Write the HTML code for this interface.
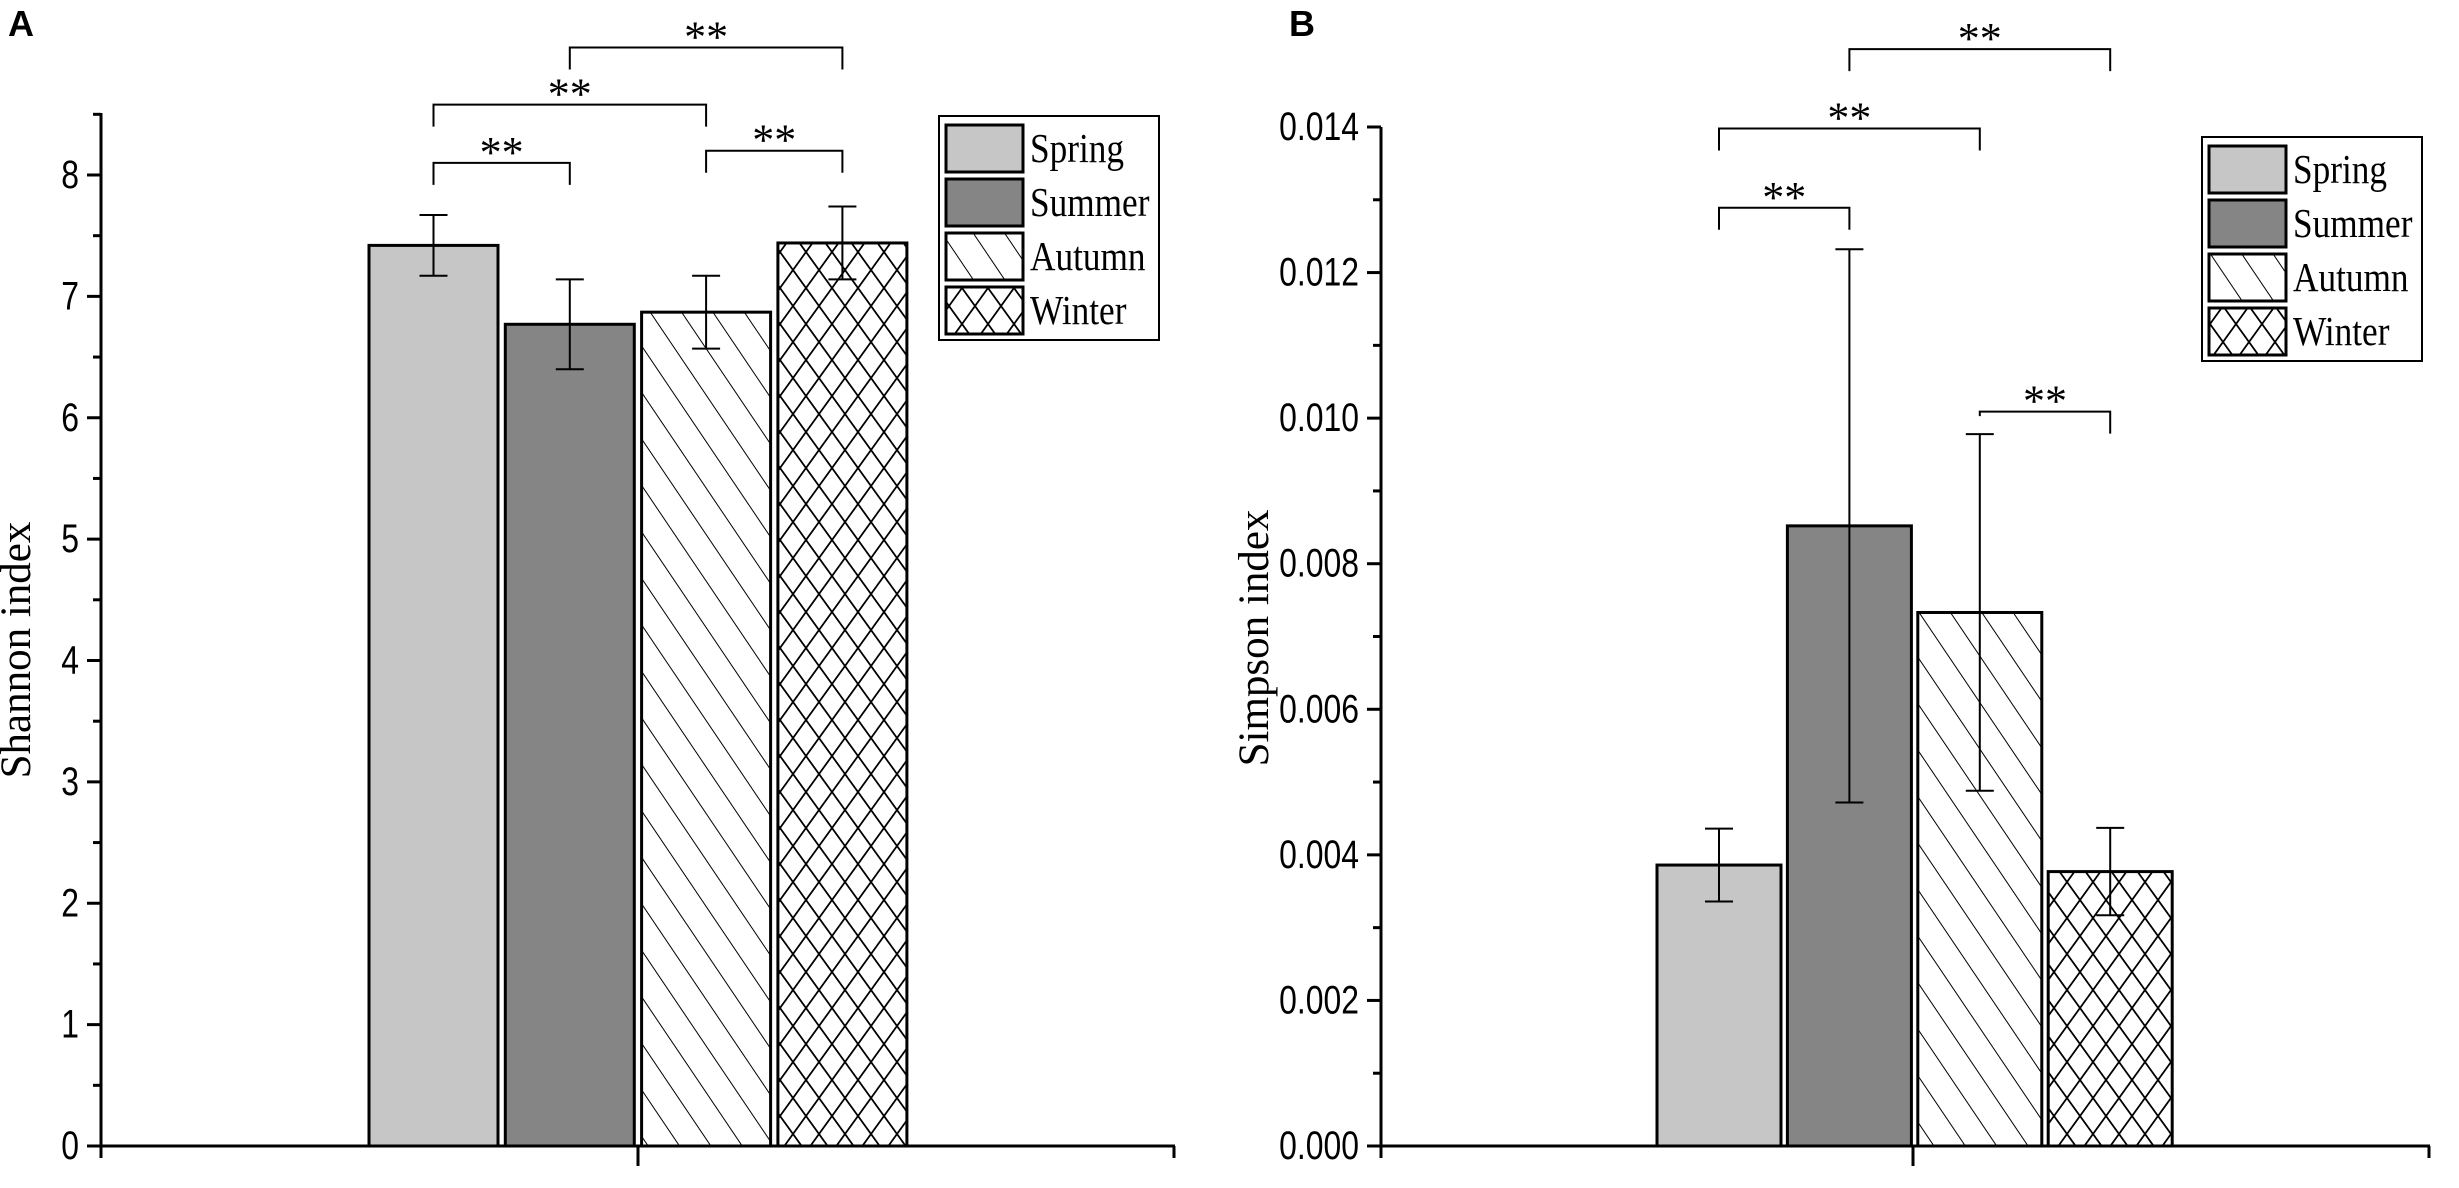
<!DOCTYPE html>
<html><head><meta charset="utf-8"><style>
html,body{margin:0;padding:0;background:#fff;}
svg{display:block;}
.tk{font-family:"Liberation Sans",Arial,sans-serif;font-size:38px;fill:#000;}
.tm{font-family:"Liberation Serif","Times New Roman",serif;fill:#000;}
</style></head><body>
<svg id="chart" width="2459" height="1188" viewBox="0 0 2459 1188" xmlns="http://www.w3.org/2000/svg">
<defs>
<pattern id="diag" patternUnits="userSpaceOnUse" width="26" height="26" patternTransform="rotate(-34)">
<rect width="26" height="26" fill="#fff"/><line x1="0" y1="0" x2="0" y2="26" stroke="#000" stroke-width="2"/>
</pattern>
<pattern id="cross" patternUnits="userSpaceOnUse" width="26" height="36">
<rect width="26" height="36" fill="#fff"/>
<path d="M0,0 L26,36 M26,0 L0,36" stroke="#000" stroke-width="1.8"/>
</pattern>
</defs>
<text x="8" y="36" font-family="Liberation Sans,Arial,sans-serif" font-weight="bold" font-size="36">A</text>
<text x="1289" y="36" font-family="Liberation Sans,Arial,sans-serif" font-weight="bold" font-size="36">B</text>
<g id="pa"></g>
<g id="pb"></g>
</svg>
<script>
const seasons = ["Spring","Summer","Autumn","Winter"];
const shannonValues = [7.42, 6.77, 6.87, 7.44];
const shannonErrors = [0.25, 0.37, 0.30, 0.30];
const shannonTicks = ["0","1","2","3","4","5","6","7","8"];
const simpsonValues = [0.00386, 0.00852, 0.00733, 0.00377];
const simpsonErrors = [0.0005, 0.0038, 0.00245, 0.0006];
const simpsonTicks = ["0.000","0.002","0.004","0.006","0.008","0.010","0.012","0.014"];
const shannonBrackets = [[0,1,8.1],[0,2,8.58],[2,3,8.2],[1,3,9.05]];
const simpsonBrackets = [[0,1,0.01289],[0,2,0.01398],[2,3,0.01009],[1,3,0.01507]];

const NS = "http://www.w3.org/2000/svg";
const fills = ["#c6c6c6","#858585","url(#diag)","url(#cross)"];
function mk(parent, tag, attrs, text){
  const e = document.createElementNS(NS, tag);
  for (const k in attrs) e.setAttribute(k, attrs[k]);
  if (text !== undefined) e.textContent = text;
  parent.appendChild(e);
  return e;
}
function panel(g, cfg){
  const y = v => cfg.y0 - (v - cfg.vmin) / (cfg.vmax - cfg.vmin) * (cfg.y0 - cfg.yTop);
  const bx = i => cfg.barX0 + i * cfg.barStep;
  const cx = i => bx(i) + cfg.barW / 2;
  cfg.values.forEach((v, i) => {
    const r = mk(g, "rect", {x: bx(i), y: y(v), width: cfg.barW, height: cfg.y0 - y(v), fill: fills[i], stroke: "#000", "stroke-width": 3});
    
    
  });
  cfg.values.forEach((v, i) => {
    const e = cfg.errors[i], c = cx(i);
    const eg = mk(g, "g", {stroke: "#000", "stroke-width": 2});
    
    
    mk(eg, "line", {x1: c, x2: c, y1: y(v + e), y2: y(v - e)});
    mk(eg, "line", {x1: c - 14, x2: c + 14, y1: y(v + e), y2: y(v + e)});
    mk(eg, "line", {x1: c - 14, x2: c + 14, y1: y(v - e), y2: y(v - e)});
  });
  const ax = mk(g, "g", {stroke: "#000", "stroke-width": 3});
  
  
  mk(ax, "line", {x1: cfg.xAxis, x2: cfg.xAxis, y1: cfg.axisTop, y2: cfg.y0 + 1.5});
  mk(ax, "line", {x1: cfg.xAxis - 12, x2: cfg.xEnd, y1: cfg.y0, y2: cfg.y0});
  mk(ax, "line", {x1: cfg.xAxis, x2: cfg.xAxis, y1: cfg.y0, y2: cfg.y0 + 12});
  mk(ax, "line", {x1: cfg.xMid, x2: cfg.xMid, y1: cfg.y0, y2: cfg.y0 + 20});
  mk(ax, "line", {x1: cfg.xEnd - 1, x2: cfg.xEnd - 1, y1: cfg.y0, y2: cfg.y0 + 12});
  cfg.ticks.forEach((t, i) => {
    const v = cfg.vmin + i * cfg.step, yy = y(v);
    mk(ax, "line", {x1: cfg.xAxis - 14, x2: cfg.xAxis, y1: yy, y2: yy});
    if (i < cfg.ticks.length - 1 || cfg.minorTop) {
      const ym = y(v + cfg.step / 2);
      if (ym >= cfg.axisTop) mk(ax, "line", {x1: cfg.xAxis - 8, x2: cfg.xAxis, y1: ym, y2: ym});
    }
    const tx = mk(g, "text", {x: 0, y: 0, "text-anchor": "end", class: "tk", transform: `translate(${cfg.xAxis - 22},${yy + 13}) scale(0.84,1.05)`}, t);
    
    
  });
  const yt = mk(g, "text", {x: 0, y: 0, class: "tm", "font-size": 43, "text-anchor": "middle", transform: `translate(${cfg.titleX},${cfg.titleY}) rotate(-90)`}, cfg.title);
  
  
  cfg.brackets.forEach(b => {
    const [a, c2, lv] = b, yy = y(lv);
    const x1 = cx(a), x2 = cx(c2);
    const bg = mk(g, "g", {});
    
    
    const la = cfg.values[a] + cfg.errors[a], lb = cfg.values[c2] + cfg.errors[c2];
    const y1e = Math.min(y(la) - 18, yy + cfg.legLen), y2e = Math.min(y(lb) - 18, yy + cfg.legLen);
    mk(bg, "path", {d: `M${x1},${y1e} L${x1},${yy} L${x2},${yy} L${x2},${y2e}`, fill: "none", stroke: "#000", "stroke-width": 2});
    mk(bg, "text", {x: (x1 + x2) / 2, y: yy + 4, "text-anchor": "middle", "font-family": "Liberation Serif,serif", "font-size": 44}, "**");
  });
  const lg = mk(g, "g", {});
  
  
  mk(lg, "rect", {x: cfg.legX, y: cfg.legY, width: 220, height: 224, fill: "#fff", stroke: "#000", "stroke-width": 2});
  seasons.forEach((s, i) => {
    const ry = cfg.legY + 9 + i * 54;
    const e = mk(lg, "g", {});
    
    
    mk(e, "rect", {x: cfg.legX + 7, y: ry, width: 77, height: 47, fill: fills[i], stroke: "#000", "stroke-width": 3});
    mk(e, "text", {x: 0, y: 0, class: "tm", "font-size": 41, transform: `translate(${cfg.legX + 91},${ry + 37}) scale(0.86,1)`}, s);
  });
}
panel(document.getElementById("pa"), {
  values: shannonValues, errors: shannonErrors, ticks: shannonTicks, brackets: shannonBrackets,
  vmin: 0, vmax: 8, step: 1, y0: 1146, yTop: 175, axisTop: 113, minorTop: true,
  xAxis: 101, xEnd: 1175, xMid: 638, barX0: 369, barStep: 136.3, barW: 129,
  title: "Shannon index", titleX: 30, titleY: 650, legLen: 22,
  legX: 939, legY: 116
});
panel(document.getElementById("pb"), {
  values: simpsonValues, errors: simpsonErrors, ticks: simpsonTicks, brackets: simpsonBrackets,
  vmin: 0, vmax: 0.014, step: 0.002, y0: 1146, yTop: 127, axisTop: 127, minorTop: false,
  xAxis: 1381, xEnd: 2430, xMid: 1913, barX0: 1657, barStep: 130.4, barW: 124,
  title: "Simpson index", titleX: 1268, titleY: 638, legLen: 22,
  legX: 2202, legY: 137
});
</script>
</body></html>
